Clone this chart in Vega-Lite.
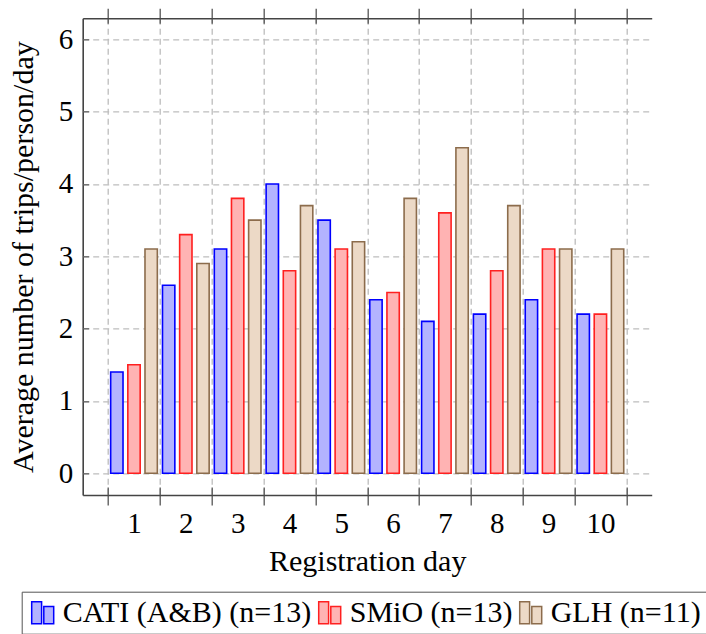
{
  "$schema": "https://vega.github.io/schema/vega-lite/v6.json",
  "autosize": {"type": "none"},
  "padding": {"left": 82.7, "top": 18.3, "right": 54.3, "bottom": 139},
  "width": 569,
  "height": 476.7,
  "background": "white",
  "config": {
    "view": {"stroke": null},
    "axis": {"labelFont": "Liberation Serif", "titleFont": "Liberation Serif", "labelColor": "#000", "titleColor": "#000", "titleFontWeight": "normal"}
  },
  "data": {
    "values": [
      {"day": 1, "series": "CATI (A&B) (n=13)", "value": 1.4},
      {"day": 1, "series": "SMiO (n=13)", "value": 1.5},
      {"day": 1, "series": "GLH (n=11)", "value": 3.1},
      {"day": 2, "series": "CATI (A&B) (n=13)", "value": 2.6},
      {"day": 2, "series": "SMiO (n=13)", "value": 3.3},
      {"day": 2, "series": "GLH (n=11)", "value": 2.9},
      {"day": 3, "series": "CATI (A&B) (n=13)", "value": 3.1},
      {"day": 3, "series": "SMiO (n=13)", "value": 3.8},
      {"day": 3, "series": "GLH (n=11)", "value": 3.5},
      {"day": 4, "series": "CATI (A&B) (n=13)", "value": 4.0},
      {"day": 4, "series": "SMiO (n=13)", "value": 2.8},
      {"day": 4, "series": "GLH (n=11)", "value": 3.7},
      {"day": 5, "series": "CATI (A&B) (n=13)", "value": 3.5},
      {"day": 5, "series": "SMiO (n=13)", "value": 3.1},
      {"day": 5, "series": "GLH (n=11)", "value": 3.2},
      {"day": 6, "series": "CATI (A&B) (n=13)", "value": 2.4},
      {"day": 6, "series": "SMiO (n=13)", "value": 2.5},
      {"day": 6, "series": "GLH (n=11)", "value": 3.8},
      {"day": 7, "series": "CATI (A&B) (n=13)", "value": 2.1},
      {"day": 7, "series": "SMiO (n=13)", "value": 3.6},
      {"day": 7, "series": "GLH (n=11)", "value": 4.5},
      {"day": 8, "series": "CATI (A&B) (n=13)", "value": 2.2},
      {"day": 8, "series": "SMiO (n=13)", "value": 2.8},
      {"day": 8, "series": "GLH (n=11)", "value": 3.7},
      {"day": 9, "series": "CATI (A&B) (n=13)", "value": 2.4},
      {"day": 9, "series": "SMiO (n=13)", "value": 3.1},
      {"day": 9, "series": "GLH (n=11)", "value": 3.1},
      {"day": 10, "series": "CATI (A&B) (n=13)", "value": 2.2},
      {"day": 10, "series": "SMiO (n=13)", "value": 2.2},
      {"day": 10, "series": "GLH (n=11)", "value": 3.1}
    ]
  },
  "resolve": {"axis": {"x": "independent", "y": "independent"}},
  "layer": [
    {
      "mark": {"type": "bar", "strokeWidth": 1.6},
      "encoding": {
        "x": {
          "field": "day", "type": "ordinal",
          "scale": {"type": "band", "paddingInner": 0, "paddingOuter": 0.49},
          "axis": {
            "orient": "bottom", "labelAngle": 0, "tickBand": "extent",
            "title": "Registration day", "titleFontSize": 30, "titlePadding": 8,
            "labelFontSize": 29, "labelPadding": 4,
            "domainColor": "#444", "domainWidth": 1.6,
            "tickColor": "#555", "tickWidth": 1.3, "tickSize": 10,
            "grid": true, "gridColor": "#bdbdbd", "gridDash": [6, 4], "gridWidth": 1.3
          }
        },
        "xOffset": {
          "field": "series", "type": "nominal",
          "sort": ["CATI (A&B) (n=13)", "SMiO (n=13)", "GLH (n=11)"],
          "scale": {"paddingInner": 0.28, "paddingOuter": 0.15}
        },
        "y": {
          "field": "value", "type": "quantitative",
          "scale": {"domain": [-0.3, 6.29], "nice": false, "zero": false},
          "axis": {
            "orient": "left", "values": [0, 1, 2, 3, 4, 5, 6],
            "title": "Average number of trips/person/day", "titleFontSize": 30, "titlePadding": 20,
            "labelFontSize": 29, "labelPadding": 10,
            "domainColor": "#444", "domainWidth": 1.6, "tickSize": 0,
            "grid": true, "gridColor": "#bdbdbd", "gridDash": [6, 4], "gridWidth": 1.3
          }
        },
        "fill": {
          "field": "series", "type": "nominal",
          "scale": {"domain": ["CATI (A&B) (n=13)", "SMiO (n=13)", "GLH (n=11)"], "range": ["#b3b3ff", "#ffb3b3", "#ecd9c6"]},
          "legend": {
            "title": null, "orient": "none", "direction": "horizontal",
            "legendX": -61, "legendY": 573.4,
            "labelFont": "Liberation Serif", "labelFontSize": 30, "labelColor": "#000", "labelLimit": 500,
            "labelOffset": 5, "columnPadding": 3,
            "symbolType": "M-1,-1H-0.1V1H-1Z M0.1,-0.56H1V1H0.1Z",
            "symbolSize": 484, "symbolStrokeWidth": 1.5,
            "strokeColor": "#555", "padding": 6
          }
        },
        "stroke": {
          "field": "series", "type": "nominal",
          "scale": {"domain": ["CATI (A&B) (n=13)", "SMiO (n=13)", "GLH (n=11)"], "range": ["#0000ff", "#ff2020", "#8c6c4c"]},
          "legend": {
            "title": null, "orient": "none", "direction": "horizontal",
            "legendX": -61, "legendY": 573.4,
            "labelFont": "Liberation Serif", "labelFontSize": 30, "labelColor": "#000", "labelLimit": 500,
            "labelOffset": 5, "columnPadding": 3,
            "symbolType": "M-1,-1H-0.1V1H-1Z M0.1,-0.56H1V1H0.1Z",
            "symbolSize": 484, "symbolStrokeWidth": 1.5,
            "strokeColor": "#555", "padding": 6
          }
        }
      }
    },
    {
      "mark": {"type": "bar", "opacity": 0},
      "encoding": {
        "x": {
          "field": "day", "type": "ordinal",
          "axis": {
            "orient": "top", "tickBand": "extent", "labels": false, "title": null, "grid": false,
            "domainColor": "#444", "domainWidth": 1.6,
            "tickColor": "#555", "tickWidth": 1.3, "tickSize": 10
          }
        },
        "y": {
          "field": "value", "type": "quantitative",
          "axis": {
            "orient": "right", "offset": -569, "values": [0, 1, 2, 3, 4, 5, 6],
            "labels": false, "title": null, "grid": false, "domain": false,
            "tickColor": "#666", "tickWidth": 1.3, "tickSize": 6
          }
        }
      }
    },
    {
      "mark": {"type": "bar", "opacity": 0},
      "encoding": {
        "x": {
          "field": "day", "type": "ordinal",
          "axis": {
            "orient": "top", "offset": -476.7, "tickBand": "extent", "labels": false, "title": null, "grid": false,
            "domain": false, "tickColor": "#555", "tickWidth": 1.3, "tickSize": 8
          }
        },
        "y": {"field": "value", "type": "quantitative", "axis": null}
      }
    },
    {
      "mark": {"type": "bar", "opacity": 0},
      "encoding": {
        "x": {
          "field": "day", "type": "ordinal",
          "axis": {
            "orient": "bottom", "offset": -476.7, "tickBand": "extent", "labels": false, "title": null, "grid": false,
            "domain": false, "tickColor": "#555", "tickWidth": 1.3, "tickSize": 5
          }
        },
        "y": {"field": "value", "type": "quantitative", "axis": null}
      }
    }
  ]
}
